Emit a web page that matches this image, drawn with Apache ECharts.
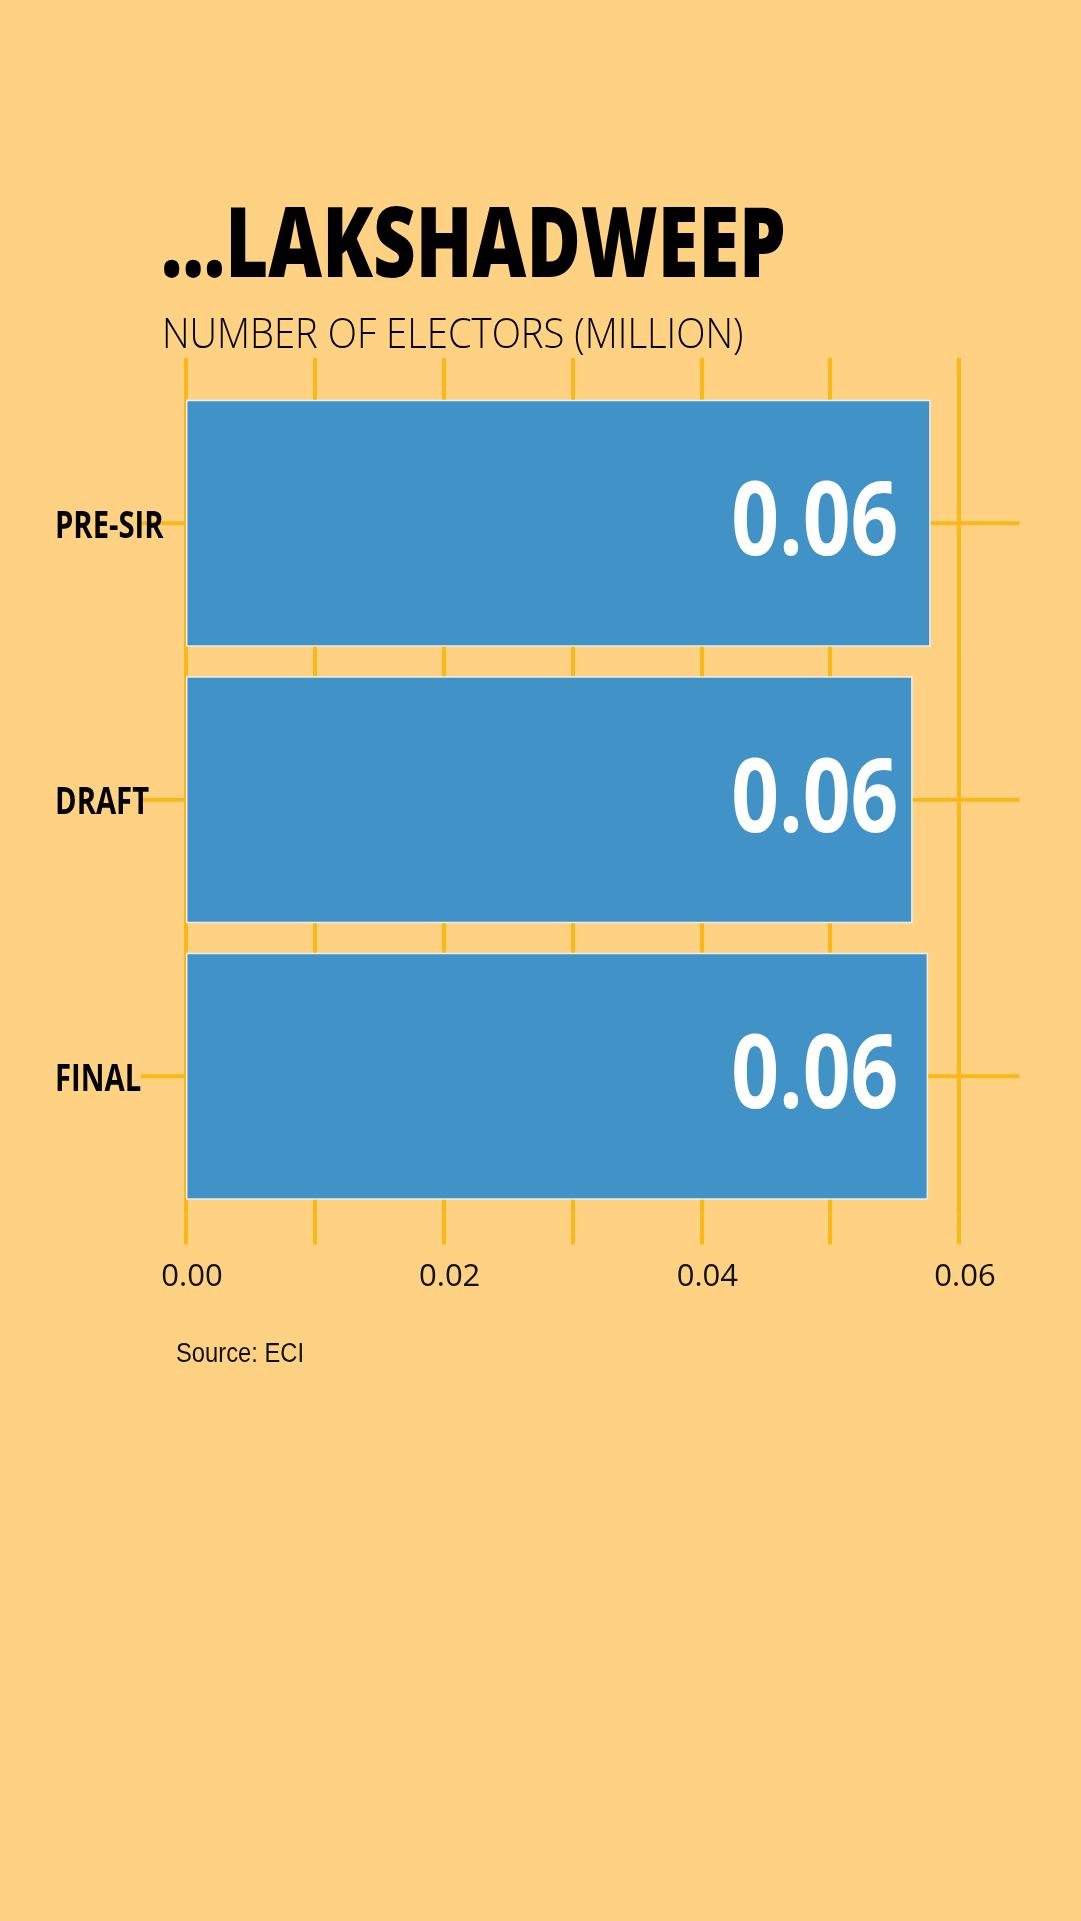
<!DOCTYPE html>
<html>
<head>
<meta charset="utf-8">
<script src="https://cdn.jsdelivr.net/npm/echarts@6/dist/echarts.min.js"></script>
<style>
  html, body { margin: 0; padding: 0; background: #fed282; }
  #chart { width: 1081px; height: 1921px; }
</style>
</head>
<body>
<div id="chart"></div>
<script>
// data
var categories = ['PRE-SIR', 'DRAFT', 'FINAL'];
var electors = [0.0578, 0.0564, 0.0576];   // million
var tickLabels = ['0.00', '0.02', '0.04', '0.06'];

var GOLD = '#fab818';
var LINE_FROM = -0.0035, LINE_TO = 0.0647;  // reach of the row lines
var LABEL_AT = 0.0553;                       // where value labels end

var chart = echarts.init(document.getElementById('chart'));

chart.setOption({
  backgroundColor: '#fed282',
  animation: false,
  grid: { left: 186, right: 122, top: 385, height: 829.5 },
  xAxis: [{
    type: 'value',
    min: 0, max: 0.06, interval: 0.01,
    position: 'bottom',
    axisLine: { show: false },
    axisTick: { show: true, length: 30, lineStyle: { color: GOLD, width: 4 } },
    splitLine: { show: true, lineStyle: { color: GOLD, width: 4 } },
    axisLabel: {
      margin: 47,
      padding: [0, 0, 0, 12],
      fontFamily: '"Open Sans"',
      fontWeight: 400,
      fontSize: 31,
      color: '#111',
      formatter: function (v) {
        var s = v.toFixed(2);
        return tickLabels.indexOf(s) >= 0 ? s : '';
      }
    }
  }, {
    type: 'value',
    min: 0, max: 0.06, interval: 0.01,
    position: 'top',
    axisLine: { show: false },
    axisTick: { show: true, length: 27, lineStyle: { color: GOLD, width: 4 } },
    splitLine: { show: false },
    axisLabel: { show: false }
  }],
  yAxis: {
    type: 'category',
    data: categories,
    inverse: true,
    axisLine: { show: false },
    axisTick: { show: false },
    axisLabel: { show: false }
  },
  series: [{
    // row lines behind the bars, with the category names
    type: 'custom',
    z: 1,
    silent: true,
    data: categories.map(function (c) { return [0, c]; }),
    encode: { x: 0, y: 1 },
    renderItem: function (params, api) {
      var idx = api.value(1);
      var a = api.coord([LINE_FROM, idx]);
      var b = api.coord([LINE_TO, idx]);
      return {
        type: 'group',
        children: [{
          type: 'line',
          shape: { x1: a[0], y1: a[1], x2: b[0], y2: b[1] },
          style: { stroke: GOLD, lineWidth: 4 }
        }, {
          type: 'text',
          x: params.coordSys.x - 131, y: a[1] + 4,
          scaleX: 0.79,
          style: {
            text: categories[params.dataIndex],
            font: 'bold 37px "Open Sans"',
            fill: '#000',
            align: 'left',
            verticalAlign: 'middle'
          }
        }]
      };
    }
  }, {
    type: 'bar',
    z: 2,
    data: electors,
    barWidth: 247,
    itemStyle: { color: '#4193c7', borderColor: '#e9eef0', borderWidth: 1.5 }
  }, {
    // value labels
    type: 'custom',
    z: 4,
    silent: true,
    data: electors.map(function (v, i) { return [v, categories[i]]; }),
    encode: { x: 0, y: 1 },
    renderItem: function (params, api) {
      var p = api.coord([LABEL_AT, api.value(1)]);
      return {
        type: 'text',
        x: p[0], y: p[1] + 3,
        scaleX: 0.82,
        style: {
          text: api.value(0).toFixed(2),
          font: 'bold 102px "Open Sans"',
          fill: '#fff',
          align: 'right',
          verticalAlign: 'middle'
        }
      };
    }
  }],
  graphic: [{
    type: 'text',
    x: 161, y: 249,
    scaleX: 0.756,
    style: {
      text: '...LAKSHADWEEP',
      font: '800 98px "Open Sans"',
      fill: '#000',
      align: 'left',
      verticalAlign: 'middle'
    }
  }, {
    type: 'text',
    x: 162, y: 336,
    scaleX: 0.91,
    style: {
      text: 'NUMBER OF ELECTORS (MILLION)',
      font: '300 42px "Open Sans"',
      fill: '#000',
      align: 'left',
      verticalAlign: 'middle'
    }
  }, {
    type: 'text',
    x: 176, y: 1355,
    scaleX: 0.88,
    style: {
      text: 'Source: ECI',
      font: '27px "Liberation Sans"',
      fill: '#111',
      align: 'left',
      verticalAlign: 'middle'
    }
  }]
});
</script>
</body>
</html>
